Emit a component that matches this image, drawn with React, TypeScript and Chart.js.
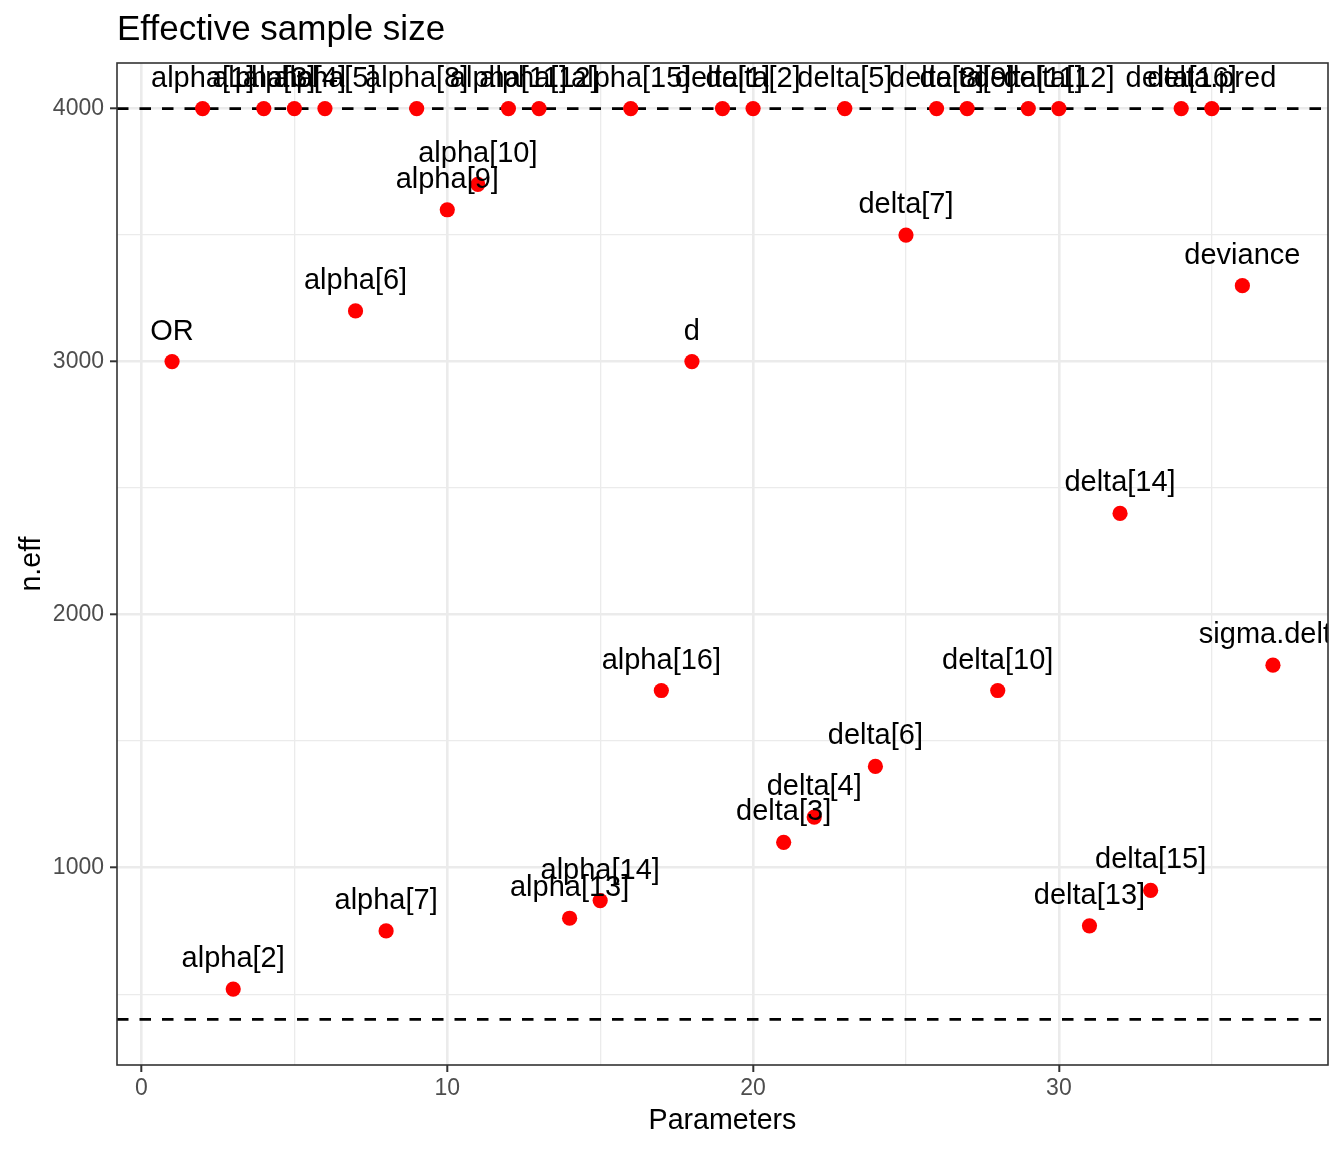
import { useEffect, useRef } from 'react';
import { Chart, registerables } from 'chart.js';

Chart.register(...registerables);

// parameter names, in plotting order
const paramLabels = [
  'OR', 'alpha[1]', 'alpha[2]', 'alpha[3]', 'alpha[4]', 'alpha[5]', 'alpha[6]',
  'alpha[7]', 'alpha[8]', 'alpha[9]', 'alpha[10]', 'alpha[11]', 'alpha[12]',
  'alpha[13]', 'alpha[14]', 'alpha[15]', 'alpha[16]', 'd', 'delta[1]',
  'delta[2]', 'delta[3]', 'delta[4]', 'delta[5]', 'delta[6]', 'delta[7]',
  'delta[8]', 'delta[9]', 'delta[10]', 'delta[11]', 'delta[12]', 'delta[13]',
  'delta[14]', 'delta[15]', 'delta[16]', 'delta.pred', 'deviance', 'sigma.delta',
];

const paramIndex = [
  1, 2, 3, 4, 5, 6, 7, 8, 9, 10, 11, 12, 13, 14, 15, 16, 17, 18, 19,
  20, 21, 22, 23, 24, 25, 26, 27, 28, 29, 30, 31, 32, 33, 34, 35, 36, 37,
];

const nEff = [
  3000, 4000, 520, 4000, 4000, 4000, 3200, 750, 4000, 3600, 3700, 4000, 4000,
  800, 870, 4000, 1700, 3000, 4000, 4000, 1100, 1200, 4000, 1400, 3500, 4000,
  4000, 1700, 4000, 4000, 770, 2400, 910, 4000, 4000, 3300, 1800,
];

// dashed reference lines
const refLines = [400, 4000];

const xMajorTicks = [0, 10, 20, 30];
const xMinorTicks = [5, 15, 25, 35];
const yMajorTicks = [1000, 2000, 3000, 4000];
const yMinorTicks = [500, 1500, 2500, 3500];

const FONT = '"Liberation Sans", Arial, Helvetica, sans-serif';

const overlayPlugin = {
  id: 'overlay',
  beforeDatasetsDraw(chart: Chart) {
    const { ctx, chartArea, scales } = chart;
    ctx.save();
    ctx.beginPath();
    ctx.rect(chartArea.left, chartArea.top, chartArea.right - chartArea.left, chartArea.bottom - chartArea.top);
    ctx.clip();
    ctx.strokeStyle = '#000000';
    ctx.lineWidth = 2.8;
    ctx.setLineDash([11.5, 11]);
    refLines.forEach((v) => {
      const y = scales.y.getPixelForValue(v);
      ctx.beginPath();
      ctx.moveTo(chartArea.left, y);
      ctx.lineTo(chartArea.right, y);
      ctx.stroke();
    });
    ctx.restore();
  },
  afterDatasetsDraw(chart: Chart) {
    const { ctx, chartArea } = chart;
    const meta = chart.getDatasetMeta(0);
    ctx.save();
    ctx.beginPath();
    ctx.rect(chartArea.left, chartArea.top, chartArea.right - chartArea.left, chartArea.bottom - chartArea.top);
    ctx.clip();
    ctx.font = `29px ${FONT}`;
    ctx.fillStyle = '#000000';
    ctx.textAlign = 'center';
    ctx.textBaseline = 'alphabetic';
    meta.data.forEach((pt, i) => {
      ctx.fillText(paramLabels[i], pt.x, pt.y - 22);
    });
    ctx.restore();
  },
  afterDraw(chart: Chart) {
    const { ctx, chartArea } = chart;
    ctx.save();
    // panel border
    ctx.strokeStyle = '#333333';
    ctx.lineWidth = 1.6;
    ctx.strokeRect(chartArea.left, chartArea.top, chartArea.right - chartArea.left, chartArea.bottom - chartArea.top);

    ctx.fillStyle = '#000000';
    ctx.textBaseline = 'alphabetic';
    ctx.font = `35px ${FONT}`;
    ctx.textAlign = 'left';
    ctx.fillText('Effective sample size', chartArea.left, 40);

    ctx.font = `28.6px ${FONT}`;
    ctx.textAlign = 'center';
    ctx.fillText('Parameters', (chartArea.left + chartArea.right) / 2, 1129);

    ctx.translate(40, (chartArea.top + chartArea.bottom) / 2);
    ctx.rotate(-Math.PI / 2);
    ctx.fillText('n.eff', 0, 0);
    ctx.restore();
  },
};

export default function App() {
  const canvasRef = useRef<HTMLCanvasElement>(null);
  const chartRef = useRef<Chart | null>(null);

  useEffect(() => {
    document.body.style.margin = '0';
    if (!canvasRef.current) return;
    if (chartRef.current) chartRef.current.destroy();

    const isMajorX = (v: number) => xMajorTicks.includes(v);
    const isMajorY = (v: number) => yMajorTicks.includes(v);

    chartRef.current = new Chart(canvasRef.current, {
      type: 'scatter',
      data: {
        datasets: [
          {
            data: paramIndex.map((x, i) => ({ x, y: nEff[i] })),
            backgroundColor: '#FF0000',
            borderWidth: 0,
            pointRadius: 7.6,
          },
        ],
      },
      options: {
        animation: false,
        responsive: true,
        maintainAspectRatio: false,
        layout: { padding: { left: 0, top: 63, right: 16, bottom: 0 } },
        plugins: {
          legend: { display: false },
          tooltip: { enabled: false },
          title: { display: false },
        },
        scales: {
          x: {
            type: 'linear',
            min: -0.8,
            max: 38.8,
            afterBuildTicks: (scale: any) => {
              scale.ticks = [...xMajorTicks, ...xMinorTicks].sort((a, b) => a - b).map((value) => ({ value }));
            },
            afterFit: (scale: any) => {
              scale.height = 87;
            },
            border: { display: false },
            grid: {
              color: '#EBEBEB',
              lineWidth: (c: any) => (isMajorX(c.tick?.value) ? 2.6 : 1.3),
              tickColor: (c: any) => (isMajorX(c.tick?.value) ? '#333333' : 'rgba(0,0,0,0)'),
              tickLength: 7,
              tickWidth: 2,
            },
            ticks: {
              autoSkip: false,
              maxRotation: 0,
              padding: 3,
              color: '#4D4D4D',
              font: { family: FONT, size: 23 },
              callback: (v: any) => (isMajorX(Number(v)) ? String(v) : ''),
            },
          },
          y: {
            type: 'linear',
            min: 220,
            max: 4180,
            afterBuildTicks: (scale: any) => {
              scale.ticks = [...yMajorTicks, ...yMinorTicks].sort((a, b) => a - b).map((value) => ({ value }));
            },
            afterFit: (scale: any) => {
              scale.width = 117;
            },
            border: { display: false },
            grid: {
              color: '#EBEBEB',
              lineWidth: (c: any) => (isMajorY(c.tick?.value) ? 2.6 : 1.3),
              tickColor: (c: any) => (isMajorY(c.tick?.value) ? '#333333' : 'rgba(0,0,0,0)'),
              tickLength: 7,
              tickWidth: 2,
            },
            ticks: {
              autoSkip: false,
              padding: 6,
              color: '#4D4D4D',
              font: { family: FONT, size: 23 },
              callback: (v: any) => (isMajorY(Number(v)) ? String(v) : ''),
            },
          },
        },
      },
      plugins: [overlayPlugin],
    });

    return () => {
      if (chartRef.current) {
        chartRef.current.destroy();
        chartRef.current = null;
      }
    };
  }, []);

  return (
    <div style={{ width: 1344, height: 1152, position: 'relative', background: '#ffffff' }}>
      <canvas ref={canvasRef} role="img" aria-label="Effective sample size scatter plot" />
    </div>
  );
}
